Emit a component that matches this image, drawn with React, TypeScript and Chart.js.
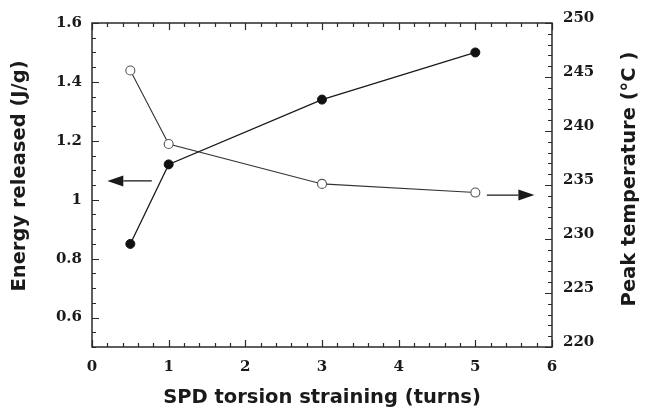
import React, { useEffect, useRef } from "react";
import { Chart, registerables } from "chart.js";

Chart.register(...registerables);

// ---- data ----
const turns = [0.5, 1, 3, 5];
const energyReleased = [0.85, 1.12, 1.34, 1.5];
const peakTemperature = [245.6, 238.8, 235.1, 234.3];

const xTickValues = [0, 1, 2, 3, 4, 5, 6];
const leftTickValues = [0.6, 0.8, 1, 1.2, 1.4, 1.6];
const rightTickValues = [220, 225, 230, 235, 240, 245, 250];

// arrows (tail -> tip) in data units
const leftArrowX = [0.78, 0.2];
const leftArrowY = [1.064, 1.064];
const rightArrowX = [5.15, 5.77];
const rightArrowY = [234.07, 234.07];

const xTitle = "SPD torsion straining (turns)";
const leftTitle = "Energy released (J/g)";
const rightTitle = "Peak temperature (°C )";

const X_MINOR = 0.2;
const LEFT_MINOR = 0.05;
const RIGHT_MINOR = 1;

const INK = "#1a1a1a";
const TICK_FONT = { family: "'DejaVu Serif'", size: 15, weight: "bold" as const };
const TITLE_FONT_CSS = "bold 19.5px 'DejaVu Sans'";

const framePlugin = {
  id: "frameAndTicks",
  afterDraw(chart: any) {
    const { ctx, chartArea, scales } = chart;
    const { left, right, top, bottom } = chartArea;
    const x = scales.x;
    const yl = scales.y;
    const yr = scales.y2;
    ctx.save();
    ctx.strokeStyle = "#2a2a2a";
    ctx.lineWidth = 1.5;
    ctx.strokeRect(left, top, right - left, bottom - top);

    ctx.lineWidth = 1.2;
    ctx.beginPath();
    // x ticks (bottom and top)
    const nx = Math.round((x.max - x.min) / X_MINOR);
    for (let i = 0; i <= nx; i++) {
      const v = x.min + i * X_MINOR;
      const px = Math.round(x.getPixelForValue(v)) + 0.5;
      const len = i % 5 === 0 ? 7 : 4;
      ctx.moveTo(px, bottom);
      ctx.lineTo(px, bottom - len);
      ctx.moveTo(px, top);
      ctx.lineTo(px, top + len);
    }
    // left y ticks
    const nl = Math.round((yl.max - yl.min) / LEFT_MINOR);
    for (let i = 0; i <= nl; i++) {
      const v = yl.min + i * LEFT_MINOR;
      const py = Math.round(yl.getPixelForValue(v)) + 0.5;
      const major = Math.round(v * 100) % 20 === 0;
      const len = major ? 7 : 4;
      ctx.moveTo(left, py);
      ctx.lineTo(left + len, py);
    }
    // right y ticks
    const nr = Math.round((yr.max - yr.min) / RIGHT_MINOR);
    for (let i = 0; i <= nr; i++) {
      const v = yr.min + i * RIGHT_MINOR;
      const py = Math.round(yr.getPixelForValue(v)) + 0.5;
      const major = Math.round(v) % 5 === 0;
      const len = major ? 7 : 4;
      ctx.moveTo(right, py);
      ctx.lineTo(right - len, py);
    }
    ctx.stroke();

    // arrows
    const drawArrow = (ax: number[], ay: number[], ys: any) => {
      const x0 = x.getPixelForValue(ax[0]);
      const x1 = x.getPixelForValue(ax[1]);
      const y0 = ys.getPixelForValue(ay[0]);
      const y1 = ys.getPixelForValue(ay[1]);
      const ang = Math.atan2(y1 - y0, x1 - x0);
      const headLen = 16;
      const halfW = 5.5;
      const bx = x1 - Math.cos(ang) * headLen;
      const by = y1 - Math.sin(ang) * headLen;
      ctx.strokeStyle = INK;
      ctx.lineWidth = 1.3;
      ctx.beginPath();
      ctx.moveTo(x0, y0);
      ctx.lineTo(bx, by);
      ctx.stroke();
      ctx.fillStyle = INK;
      ctx.beginPath();
      ctx.moveTo(x1, y1);
      ctx.lineTo(bx - Math.sin(ang) * halfW, by + Math.cos(ang) * halfW);
      ctx.lineTo(bx + Math.sin(ang) * halfW, by - Math.cos(ang) * halfW);
      ctx.closePath();
      ctx.fill();
    };
    drawArrow(leftArrowX, leftArrowY, yl);
    drawArrow(rightArrowX, rightArrowY, yr);

    // vertical axis titles (both read bottom-to-top)
    ctx.fillStyle = INK;
    ctx.font = TITLE_FONT_CSS;
    ctx.textAlign = "center";
    ctx.textBaseline = "middle";
    const drawV = (text: string, cx: number, cy: number) => {
      ctx.save();
      ctx.translate(cx, cy);
      ctx.rotate(-Math.PI / 2);
      ctx.fillText(text, 0, 0);
      ctx.restore();
    };
    drawV(leftTitle, 20, (top + bottom) / 2 - 9);
    drawV(rightTitle, chart.width - 16, (top + bottom) / 2 - 6);
    ctx.restore();
  },
};

export default function App() {
  const canvasRef = useRef<HTMLCanvasElement | null>(null);

  useEffect(() => {
    if (!canvasRef.current) return;
    const chart = new Chart(canvasRef.current, {
      type: "line",
      data: {
        datasets: [
          {
            label: "Energy released",
            data: turns.map((t, i) => ({ x: t, y: energyReleased[i] })),
            yAxisID: "y",
            borderColor: INK,
            borderWidth: 1.3,
            pointRadius: 4.5,
            pointBackgroundColor: "#111",
            pointBorderColor: "#111",
            pointBorderWidth: 1,
            tension: 0,
          },
          {
            label: "Peak temperature",
            data: turns.map((t, i) => ({ x: t, y: peakTemperature[i] })),
            yAxisID: "y2",
            borderColor: "#333",
            borderWidth: 1.1,
            pointRadius: 4.5,
            pointBackgroundColor: "#ffffff",
            pointBorderColor: "#555",
            pointBorderWidth: 1.1,
            tension: 0,
          },
        ],
      },
      options: {
        responsive: false,
        animation: false,
        devicePixelRatio: 1,
        layout: { padding: { top: 23, left: 0, right: 0, bottom: 0 } },
        plugins: {
          legend: { display: false },
          tooltip: { enabled: false },
        },
        scales: {
          x: {
            type: "linear",
            position: "bottom",
            min: 0,
            max: 6,
            afterBuildTicks: (s: any) => {
              s.ticks = xTickValues.map((v) => ({ value: v }));
            },
            ticks: {
              font: TICK_FONT,
              color: INK,
              padding: 11,
              maxRotation: 0,
              callback: (v: any) => String(v),
            },
            grid: { display: false, drawTicks: false },
            border: { display: false },
            title: {
              display: true,
              text: xTitle,
              color: INK,
              font: { family: "'DejaVu Sans'", size: 19.5, weight: "bold", lineHeight: 1.1 },
              padding: { top: 0, bottom: 0 },
            },
            afterFit: (s: any) => {
              s.height = 62;
            },
          },
          y: {
            type: "linear",
            position: "left",
            min: 0.5,
            max: 1.6,
            afterBuildTicks: (s: any) => {
              s.ticks = leftTickValues.map((v) => ({ value: v }));
            },
            ticks: {
              font: TICK_FONT,
              color: INK,
              padding: 10,
              callback: (v: any) => String(v),
            },
            grid: { display: false, drawTicks: false },
            border: { display: false },
            afterFit: (s: any) => {
              s.width = 92;
            },
          },
          y2: {
            type: "linear",
            position: "right",
            min: 220,
            max: 250,
            afterBuildTicks: (s: any) => {
              s.ticks = rightTickValues.map((v) => ({ value: v }));
            },
            ticks: {
              font: TICK_FONT,
              color: INK,
              padding: 11,
              labelOffset: -5,
              callback: (v: any) => String(v),
            },
            grid: { display: false, drawTicks: false },
            border: { display: false },
            afterFit: (s: any) => {
              s.width = 94;
            },
          },
        },
      },
      plugins: [framePlugin],
    });
    return () => chart.destroy();
  }, []);

  return (
    <div style={{ position: "fixed", left: 0, top: 0, width: 646, height: 409, background: "#fff" }}>
      <canvas ref={canvasRef} width={646} height={409} style={{ width: 646, height: 409, display: "block" }} />
    </div>
  );
}
